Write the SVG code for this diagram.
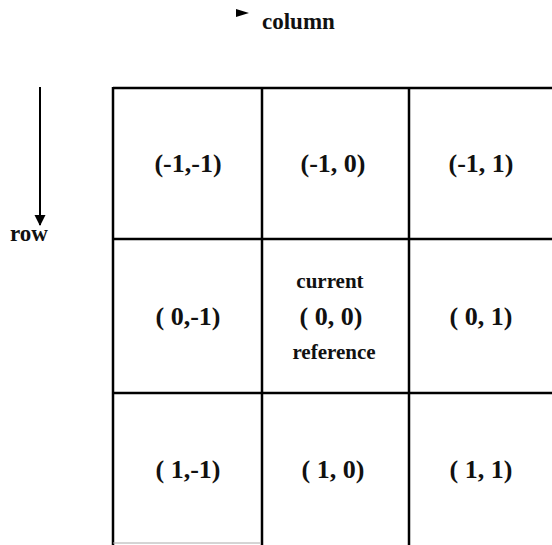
<svg xmlns="http://www.w3.org/2000/svg" width="552" height="545" viewBox="0 0 552 545">
<style>
.grid{stroke:#000;stroke-width:2.5;fill:none}
.lbl{font-family:"Liberation Serif",serif;font-weight:bold;font-size:26px;fill:#111;text-anchor:middle}
.sm{font-size:21px}
.ax{font-family:"Liberation Serif",serif;font-weight:bold;font-size:23px;fill:#111}
</style>
<defs>
<marker id="ah" markerWidth="12" markerHeight="12" refX="10" refY="6" orient="auto" markerUnits="userSpaceOnUse">
<path d="M0,0.5 L11,6 L0,11.5 Z" fill="#000"/>
</marker>
</defs>
<rect width="552" height="545" fill="#fff"/>
<g id="grid">
<line class="grid" x1="113" y1="88" x2="552" y2="88"/>
<line class="grid" x1="113" y1="239" x2="552" y2="239"/>
<line class="grid" x1="113" y1="393" x2="552" y2="393"/>
<line class="grid" x1="113" y1="87" x2="113" y2="545"/>
<line class="grid" x1="262" y1="87" x2="262" y2="545"/>
<line class="grid" x1="409" y1="87" x2="409" y2="545"/>
<line x1="113" y1="543" x2="260" y2="543" stroke="#aaa" stroke-width="1"/>
</g>
<g id="cell-m1-m1"><text class="lbl" x="188" y="172">(-1,-1)</text></g>
<g id="cell-m1-0"><text class="lbl" x="333" y="172">(-1, 0)</text></g>
<g id="cell-m1-1"><text class="lbl" x="481" y="172">(-1, 1)</text></g>
<g id="cell-0-m1"><text class="lbl" x="188" y="325">( 0,-1)</text></g>
<g id="cell-0-0">
<text class="lbl sm" x="330" y="288">current</text>
<text class="lbl" x="331" y="325">( 0, 0)</text>
<text class="lbl sm" x="334" y="359">reference</text>
</g>
<g id="cell-0-1"><text class="lbl" x="481" y="325">( 0, 1)</text></g>
<g id="cell-1-m1"><text class="lbl" x="188" y="478">( 1,-1)</text></g>
<g id="cell-1-0"><text class="lbl" x="333" y="478">( 1, 0)</text></g>
<g id="cell-1-1"><text class="lbl" x="481" y="478">( 1, 1)</text></g>
<g id="connectors">
<line x1="40" y1="87" x2="40" y2="225" stroke="#000" stroke-width="2" marker-end="url(#ah)"/>
<path d="M236,9 L249,13 L236,17 Z" fill="#000"/>
</g>
<g id="labels">
<text class="ax" x="10" y="241">row</text>
<text class="ax" x="262" y="29">column</text>
</g>
</svg>
